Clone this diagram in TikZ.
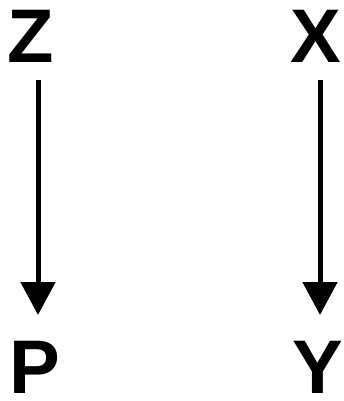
\documentclass[tikz,border=0pt]{standalone}
\usepackage{fontspec}
\setmainfont{Liberation Sans}
\usetikzlibrary{arrows.meta}
\begin{document}
\begin{tikzpicture}[x=1pt,y=1pt,
  lbl/.style={font=\fontsize{76}{76}\selectfont\bfseries, inner sep=0pt, anchor=center},
  arr/.style={line width=5pt, -{Triangle[length=33pt,width=34pt]}}]
\useasboundingbox (0,0) rectangle (343,-401);
\node[lbl] (Z) at (31,-36.5) {Z};
\node[lbl] (X) at (316,-36.5) {X};
\node[lbl] (P) at (35,-367.5) {P};
\node[lbl] (Y) at (318,-367.5) {Y};
\coordinate (z1) at (38,-80);
\coordinate (p1) at (38,-315);
\coordinate (x1) at (320,-80);
\coordinate (y1) at (320,-315);
\draw[arr] (z1) -- (p1);
\draw[arr] (x1) -- (y1);
\end{tikzpicture}
\end{document}
